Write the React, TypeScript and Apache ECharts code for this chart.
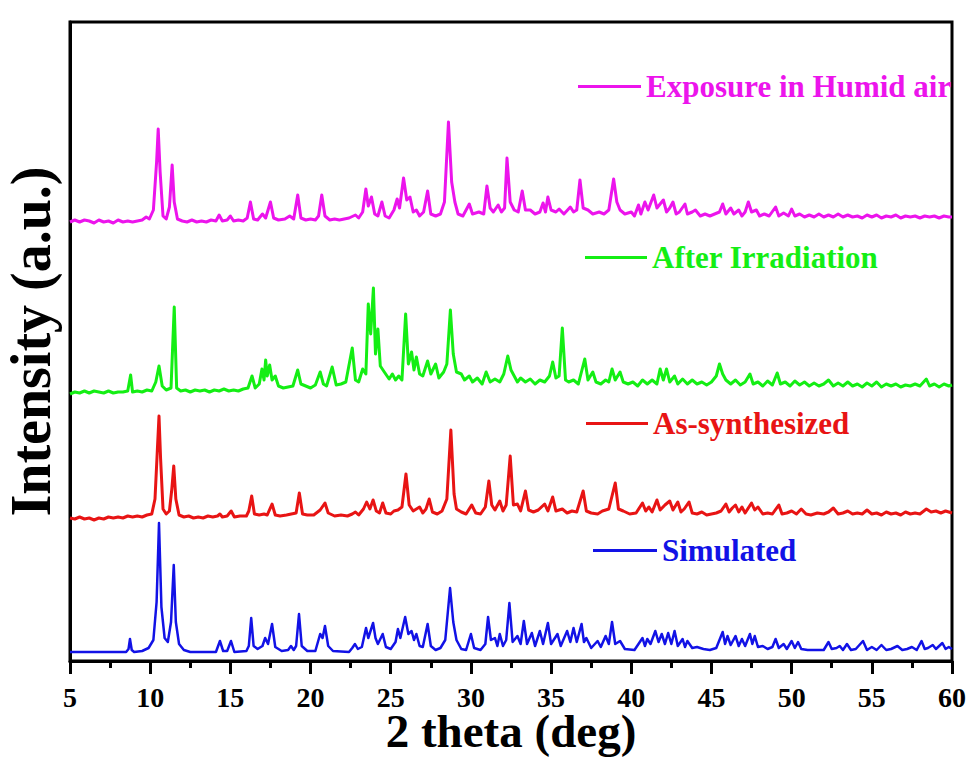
import React, { useEffect, useRef } from "react";
import * as echarts from "echarts";

// ---- axis ----
const X_MIN = 5;
const X_MAX = 60;
const X_STEP = 5;
const Y_MIN = 0;
const Y_MAX = 639;

// ---- series names & colours ----
const NAMES = ["Simulated", "As-synthesized", "After Irradiation", "Exposure in Humid air"];
const COLORS = ["#1212E6", "#E81414", "#14EE14", "#EC14EC"];
// vertical stacking offsets (a.u.)
const OFFSETS = [9, 142, 267, 439];

// ---- pattern data: [2theta, intensity above own baseline] ----
const simulated: number[][] = [
  [5, 0], [8.5, 0], [8.65, 3], [8.74, 13], [8.85, 2], [9.0, 0], [9.5, 1], [9.9, 4], [10.2, 12], [10.4, 50], [10.55, 129], [10.7, 45], [10.9, 14], [11.1, 10], [11.3, 30], [11.47, 87], [11.6, 30], [11.8, 8], [12.1, 2], [12.5, 0],
  [14.1, 0], [14.35, 11], [14.55, 1], [14.8, 1], [15.04, 11], [15.25, 0], [16.0, 1], [16.15, 6], [16.3, 34], [16.45, 6], [16.7, 3], [17.0, 6], [17.17, 14], [17.35, 8], [17.6, 28], [17.8, 5], [18.2, 1], [18.6, 2], [18.78, 6], [18.95, 2],
  [19.1, 6], [19.28, 38], [19.45, 6], [19.8, 1], [20.3, 1], [20.6, 18], [20.75, 14], [20.9, 26], [21.1, 6], [21.4, 1], [22.4, 0], [22.6, 4], [22.77, 8], [22.95, 3], [23.2, 5], [23.46, 24], [23.6, 14], [23.9, 29], [24.05, 14], [24.2, 8],
  [24.5, 18], [24.7, 5], [25.0, 3], [25.3, 10], [25.45, 23], [25.6, 14], [25.9, 35], [26.1, 18], [26.3, 21], [26.45, 12], [26.6, 18], [26.8, 6], [27.0, 5], [27.3, 28], [27.5, 6], [27.8, 2], [28.1, 4], [28.4, 12], [28.7, 64], [28.9, 30],
  [29.1, 12], [29.4, 3], [29.7, 2], [30.0, 18], [30.2, 4], [30.6, 2], [30.9, 8], [31.07, 35], [31.25, 12], [31.5, 14], [31.65, 6], [31.8, 18], [32.0, 6], [32.2, 12], [32.4, 49], [32.6, 10], [32.9, 16], [33.1, 8], [33.3, 31], [33.5, 8],
  [33.8, 19], [34.0, 6], [34.3, 21], [34.5, 8], [34.8, 29], [35.0, 8], [35.4, 18], [35.6, 6], [36.0, 21], [36.2, 10], [36.4, 24], [36.6, 10], [36.9, 28], [37.05, 10], [37.2, 14], [37.5, 4], [37.9, 11], [38.1, 5], [38.4, 16], [38.6, 8],
  [38.8, 30], [39.0, 8], [39.3, 11], [39.6, 3], [40.2, 2], [40.7, 14], [40.85, 6], [41.0, 13], [41.2, 8], [41.5, 21], [41.7, 10], [41.9, 18], [42.1, 8], [42.3, 19], [42.5, 8], [42.7, 21], [42.9, 6], [43.2, 13], [43.35, 5], [43.5, 11],
  [43.8, 4], [44.1, 5], [44.5, 3], [44.9, 2], [45.3, 4], [45.7, 20], [45.85, 8], [46.0, 16], [46.2, 7], [46.5, 16], [46.7, 6], [46.9, 13], [47.1, 6], [47.4, 18], [47.55, 8], [47.7, 16], [47.9, 5], [48.2, 6], [48.5, 3], [48.8, 5],
  [49.0, 13], [49.2, 4], [49.5, 8], [49.7, 3], [50.0, 11], [50.2, 4], [50.4, 10], [50.6, 3], [51.0, 2], [51.5, 2], [52.0, 2], [52.3, 10], [52.5, 3], [52.8, 4], [53.0, 6], [53.2, 2], [53.45, 8], [53.7, 2], [54.0, 3], [54.45, 11],
  [54.7, 2], [55.0, 5], [55.3, 2], [55.6, 7], [55.9, 2], [56.2, 3], [56.6, 6], [56.9, 2], [57.2, 3], [57.5, 5], [57.8, 2], [58.1, 11], [58.3, 3], [58.5, 4], [58.8, 7], [59.0, 3], [59.4, 9], [59.6, 3], [59.8, 5], [60, 3],
];

const asSynthesized: number[][] = [
  [5, 1], [5.3, 0], [5.6, 2], [5.9, 0], [6.2, 1], [6.5, -1], [6.8, 1], [7.1, 0], [7.4, 2], [7.7, 1], [8.0, 2], [8.3, 1], [8.6, 3], [8.9, 2], [9.2, 3], [9.5, 2], [9.8, 4], [10.1, 5], [10.3, 20], [10.45, 70],
  [10.55, 103], [10.65, 60], [10.8, 10], [11.0, 5], [11.2, 8], [11.35, 30], [11.47, 53], [11.6, 20], [11.8, 4], [12.1, 2], [12.4, 3], [12.7, 1], [13.0, 2], [13.3, 1], [13.6, 3], [13.9, 2], [14.2, 3], [14.35, 5], [14.5, 2], [14.8, 3],
  [15.05, 8], [15.25, 2], [15.6, 3], [16.0, 3], [16.15, 8], [16.33, 23], [16.5, 5], [16.8, 4], [17.1, 5], [17.3, 4], [17.6, 15], [17.8, 4], [18.1, 3], [18.5, 4], [18.8, 5], [19.1, 6], [19.3, 26], [19.5, 5], [19.8, 4], [20.2, 4],
  [20.6, 9], [20.9, 16], [21.1, 6], [21.5, 3], [21.9, 4], [22.3, 3], [22.6, 5], [22.8, 7], [23.0, 4], [23.3, 10], [23.5, 17], [23.7, 10], [23.9, 19], [24.1, 8], [24.3, 6], [24.5, 16], [24.7, 6], [25.0, 5], [25.2, 8], [25.45, 9],
  [25.7, 12], [25.95, 45], [26.15, 14], [26.4, 8], [26.6, 10], [26.8, 12], [27.0, 6], [27.2, 10], [27.4, 20], [27.6, 7], [27.9, 5], [28.2, 8], [28.5, 20], [28.75, 89], [28.95, 25], [29.1, 10], [29.4, 7], [29.7, 5], [30.05, 14], [30.3, 6],
  [30.6, 5], [30.9, 12], [31.12, 38], [31.3, 14], [31.5, 9], [31.8, 18], [32.0, 8], [32.2, 14], [32.45, 63], [32.65, 14], [32.9, 15], [33.1, 8], [33.4, 28], [33.6, 9], [33.9, 7], [34.2, 9], [34.6, 15], [34.8, 8], [35.1, 22], [35.3, 8],
  [35.7, 10], [36.0, 6], [36.3, 8], [36.6, 7], [37.0, 28], [37.2, 8], [37.5, 6], [37.9, 5], [38.2, 8], [38.6, 10], [39.0, 36], [39.2, 10], [39.5, 8], [39.9, 5], [40.3, 6], [40.7, 16], [40.9, 8], [41.1, 12], [41.3, 7], [41.6, 19],
  [41.8, 9], [42.1, 14], [42.4, 18], [42.6, 9], [42.9, 17], [43.1, 7], [43.3, 10], [43.6, 17], [43.8, 6], [44.1, 5], [44.4, 7], [44.7, 4], [45.0, 5], [45.3, 6], [45.6, 8], [45.9, 15], [46.1, 7], [46.3, 11], [46.5, 14], [46.7, 7],
  [46.9, 12], [47.1, 6], [47.5, 16], [47.7, 9], [47.9, 12], [48.2, 5], [48.5, 6], [48.8, 5], [49.2, 14], [49.4, 5], [49.7, 6], [50.0, 8], [50.3, 5], [50.6, 10], [50.9, 5], [51.2, 4], [51.6, 6], [52.0, 5], [52.3, 7], [52.6, 11],
  [52.9, 5], [53.2, 6], [53.5, 8], [53.8, 5], [54.1, 6], [54.4, 5], [54.7, 9], [55.0, 5], [55.3, 6], [55.6, 4], [55.9, 7], [56.2, 5], [56.5, 6], [56.8, 4], [57.1, 7], [57.4, 5], [57.7, 6], [58.0, 5], [58.4, 10], [58.7, 7],
  [59.0, 8], [59.3, 6], [59.6, 8], [60, 6],
];

const afterIrradiation: number[][] = [
  [5, 0], [5.3, 2], [5.6, 1], [5.9, 3], [6.2, 1], [6.5, 3], [6.8, 2], [7.1, 1], [7.4, 3], [7.7, 1], [8.0, 2], [8.3, 2], [8.6, 3], [8.78, 19], [8.9, 2], [9.2, 3], [9.5, 2], [9.8, 4], [10.1, 3], [10.35, 12],
  [10.55, 28], [10.75, 8], [11.0, 4], [11.3, 6], [11.5, 87], [11.65, 6], [11.9, 3], [12.2, 4], [12.5, 2], [12.8, 4], [13.1, 3], [13.4, 4], [13.7, 2], [14.0, 4], [14.3, 3], [14.6, 5], [14.9, 3], [15.2, 4], [15.5, 3], [15.8, 5],
  [16.1, 6], [16.35, 18], [16.55, 6], [16.8, 10], [16.97, 25], [17.1, 14], [17.2, 34], [17.3, 18], [17.45, 29], [17.6, 14], [17.8, 18], [18.0, 8], [18.3, 6], [18.6, 7], [18.9, 8], [19.2, 24], [19.4, 10], [19.7, 8], [20.0, 6], [20.3, 9],
  [20.6, 22], [20.8, 10], [21.0, 8], [21.35, 27], [21.6, 9], [21.9, 10], [22.2, 12], [22.6, 46], [22.8, 14], [23.0, 12], [23.25, 25], [23.45, 20], [23.6, 90], [23.75, 60], [23.92, 106], [24.05, 40], [24.2, 65], [24.35, 28], [24.6, 22], [24.9, 15],
  [25.1, 20], [25.3, 14], [25.5, 18], [25.7, 14], [25.93, 80], [26.1, 30], [26.3, 42], [26.45, 24], [26.6, 37], [26.8, 20], [27.0, 18], [27.3, 33], [27.5, 20], [27.8, 30], [28.0, 16], [28.3, 22], [28.5, 30], [28.72, 84], [28.9, 40], [29.1, 22],
  [29.4, 20], [29.6, 14], [29.9, 18], [30.1, 12], [30.4, 16], [30.7, 10], [30.95, 22], [31.2, 12], [31.5, 15], [31.8, 12], [32.05, 20], [32.3, 38], [32.5, 24], [32.7, 18], [32.9, 12], [33.1, 16], [33.4, 12], [33.7, 15], [34.0, 10], [34.3, 14],
  [34.6, 12], [34.9, 18], [35.1, 32], [35.3, 16], [35.5, 18], [35.7, 66], [35.9, 14], [36.1, 12], [36.4, 14], [36.7, 10], [37.1, 35], [37.3, 14], [37.6, 22], [37.8, 12], [38.1, 10], [38.4, 14], [38.6, 12], [38.8, 25], [39.0, 14], [39.3, 22],
  [39.5, 12], [39.8, 10], [40.1, 12], [40.4, 8], [40.7, 14], [41.0, 10], [41.3, 14], [41.6, 10], [41.8, 25], [42.0, 14], [42.2, 25], [42.4, 12], [42.7, 18], [42.9, 10], [43.2, 15], [43.5, 10], [43.8, 14], [44.1, 10], [44.4, 12], [44.7, 9],
  [45.0, 12], [45.3, 18], [45.5, 30], [45.7, 20], [45.9, 14], [46.2, 10], [46.5, 14], [46.8, 9], [47.1, 12], [47.4, 20], [47.6, 10], [47.9, 12], [48.2, 8], [48.5, 13], [48.8, 9], [49.1, 21], [49.3, 10], [49.6, 12], [49.9, 8], [50.2, 13],
  [50.5, 9], [50.8, 12], [51.1, 8], [51.4, 11], [51.7, 8], [52.0, 10], [52.3, 14], [52.6, 8], [52.9, 11], [53.2, 8], [53.5, 12], [53.8, 8], [54.1, 10], [54.4, 7], [54.7, 11], [55.0, 8], [55.3, 12], [55.6, 7], [55.9, 10], [56.2, 8],
  [56.5, 10], [56.8, 7], [57.1, 9], [57.4, 8], [57.7, 10], [58.0, 8], [58.4, 15], [58.6, 8], [58.9, 10], [59.2, 7], [59.5, 10], [59.8, 8], [60, 9],
];

const humidAir: number[][] = [
  [5, 0], [5.3, 2], [5.6, 0], [5.9, 2], [6.2, 1], [6.5, -1], [6.8, 2], [7.1, 0], [7.4, 1], [7.7, -1], [8.0, 2], [8.3, 0], [8.6, 1], [8.9, 0], [9.2, 1], [9.5, 2], [9.75, 5], [9.95, 3], [10.2, 12], [10.4, 60],
  [10.5, 93], [10.62, 50], [10.8, 6], [11.0, 3], [11.2, 15], [11.37, 57], [11.5, 20], [11.7, 3], [12.0, 1], [12.3, 0], [12.6, 2], [12.9, 0], [13.2, 1], [13.5, 0], [13.8, 2], [14.1, 1], [14.3, 7], [14.5, 1], [14.8, 2], [15.0, 6],
  [15.2, 1], [15.5, 2], [15.8, 1], [16.05, 4], [16.25, 20], [16.45, 3], [16.7, 2], [17.0, 8], [17.2, 4], [17.5, 20], [17.7, 4], [18.0, 2], [18.4, 3], [18.7, 6], [18.95, 3], [19.2, 27], [19.4, 4], [19.7, 2], [20.0, 3], [20.3, 2],
  [20.5, 6], [20.7, 27], [20.9, 6], [21.2, 2], [21.5, 3], [21.8, 2], [22.1, 3], [22.4, 4], [22.8, 7], [23.0, 4], [23.25, 10], [23.45, 33], [23.6, 16], [23.8, 25], [24.0, 8], [24.2, 6], [24.45, 20], [24.65, 6], [24.9, 4], [25.2, 12],
  [25.4, 23], [25.55, 14], [25.8, 44], [26.0, 22], [26.2, 25], [26.4, 10], [26.6, 12], [26.8, 6], [27.05, 10], [27.3, 31], [27.5, 8], [27.8, 6], [28.1, 8], [28.35, 20], [28.6, 100], [28.8, 40], [29.0, 20], [29.2, 8], [29.5, 6], [29.9, 18],
  [30.1, 8], [30.5, 10], [30.8, 8], [31.0, 36], [31.2, 14], [31.4, 10], [31.7, 17], [31.9, 10], [32.1, 14], [32.25, 64], [32.45, 20], [32.7, 12], [32.95, 10], [33.2, 31], [33.4, 12], [33.7, 12], [34.0, 8], [34.3, 10], [34.5, 19], [34.65, 10],
  [34.8, 25], [35.0, 12], [35.3, 10], [35.5, 13], [35.8, 8], [36.2, 15], [36.4, 10], [36.6, 12], [36.8, 42], [37.0, 14], [37.3, 12], [37.6, 8], [38.0, 10], [38.3, 8], [38.6, 12], [38.9, 43], [39.1, 20], [39.3, 12], [39.6, 8], [40.0, 10],
  [40.2, 6], [40.45, 17], [40.6, 8], [40.85, 20], [41.05, 12], [41.4, 27], [41.6, 14], [41.8, 18], [42.0, 22], [42.2, 10], [42.4, 14], [42.6, 20], [42.8, 8], [43.0, 10], [43.35, 18], [43.5, 8], [43.8, 10], [44.0, 12], [44.3, 6], [44.6, 8],
  [44.9, 6], [45.2, 8], [45.5, 10], [45.7, 18], [45.9, 8], [46.2, 14], [46.4, 8], [46.7, 12], [46.9, 6], [47.1, 10], [47.3, 20], [47.5, 10], [47.8, 12], [48.0, 6], [48.3, 8], [48.6, 6], [49.0, 15], [49.2, 6], [49.5, 9], [49.8, 6],
  [50.0, 13], [50.2, 6], [50.5, 8], [50.8, 5], [51.1, 7], [51.4, 5], [51.7, 8], [52.0, 5], [52.3, 7], [52.6, 5], [52.9, 8], [53.2, 5], [53.5, 7], [53.8, 5], [54.1, 6], [54.4, 4], [54.7, 7], [55.0, 5], [55.3, 7], [55.6, 4],
  [55.9, 6], [56.2, 5], [56.5, 7], [56.8, 4], [57.1, 6], [57.4, 5], [57.7, 6], [58.0, 4], [58.3, 6], [58.6, 5], [58.9, 6], [59.2, 4], [59.5, 6], [59.8, 5], [60, 5],
];

const PATTERNS = [simulated, asSynthesized, afterIrradiation, humidAir];
const LINE_WIDTHS = [2.5, 3, 3, 3];

// legend placement (page pixels): [left, top, itemWidth]
const LEGEND_POS = [
  [588, 530, 64],
  [581, 403, 62],
  [580, 237, 62],
  [573, 66, 63],
];

const FONT = "'Liberation Serif', 'Times New Roman', serif";

export default function App() {
  const ref = useRef<HTMLDivElement>(null);
  useEffect(() => {
    if (!ref.current) return;
    const chart = echarts.init(ref.current, undefined, { renderer: "svg" });
    const series = NAMES.map((name, i) => ({
      name,
      type: "line",
      data: PATTERNS[i].map(([x, h]) => [x, h + OFFSETS[i]]),
      showSymbol: false,
      symbol: "none",
      smooth: false,
      lineStyle: { color: COLORS[i], width: LINE_WIDTHS[i], join: "round" },
      itemStyle: { color: COLORS[i] },
      z: 2 + i,
    }));
    const legends = NAMES.map((name, i) => ({
      data: [name],
      left: LEGEND_POS[i][0],
      top: LEGEND_POS[i][1],
      itemWidth: LEGEND_POS[i][2],
      itemHeight: 3,
      icon: "rect",
      selectedMode: false,
      textStyle: {
        color: COLORS[i],
        fontFamily: FONT,
        fontWeight: "bold",
        fontSize: 31,
      },
    }));
    chart.setOption({
      animation: false,
      backgroundColor: "#fff",
      grid: {
        left: 70,
        right: 19,
        top: 22,
        bottom: 101,
        show: true,
        borderColor: "#000",
        borderWidth: 3,
        containLabel: false,
        outerBoundsMode: "none",
      },
      legend: legends,
      xAxis: {
        type: "value",
        min: X_MIN,
        max: X_MAX,
        interval: X_STEP,
        name: "2 theta (deg)",
        nameLocation: "middle",
        nameGap: 46,
        nameMoveOverlap: false,
        nameTextStyle: { fontFamily: FONT, fontWeight: "bold", fontSize: 47, color: "#000" },
        axisLine: { show: true, lineStyle: { color: "#000", width: 3 } },
        axisTick: { show: true, inside: false, length: 13, lineStyle: { color: "#000", width: 3 } },
        minorTick: { show: true, splitNumber: 2, length: 7, lineStyle: { color: "#000", width: 3 } },
        axisLabel: { fontFamily: FONT, fontWeight: "bold", fontSize: 28, color: "#000", margin: 22 },
        splitLine: { show: false },
      },
      yAxis: {
        type: "value",
        min: Y_MIN,
        max: Y_MAX,
        name: "Intensity (a.u.)",
        nameLocation: "middle",
        nameGap: 11,
        nameMoveOverlap: false,
        nameRotate: 90,
        nameTextStyle: { fontFamily: FONT, fontWeight: "bold", fontSize: 56, color: "#000" },
        axisLine: { show: true, lineStyle: { color: "#000", width: 3 } },
        axisTick: { show: false },
        axisLabel: { show: false },
        splitLine: { show: false },
      },
      series,
    });
    return () => chart.dispose();
  }, []);
  return (
    <div
      ref={ref}
      style={{ position: "absolute", left: 0, top: 0, width: 971, height: 762 }}
    />
  );
}
